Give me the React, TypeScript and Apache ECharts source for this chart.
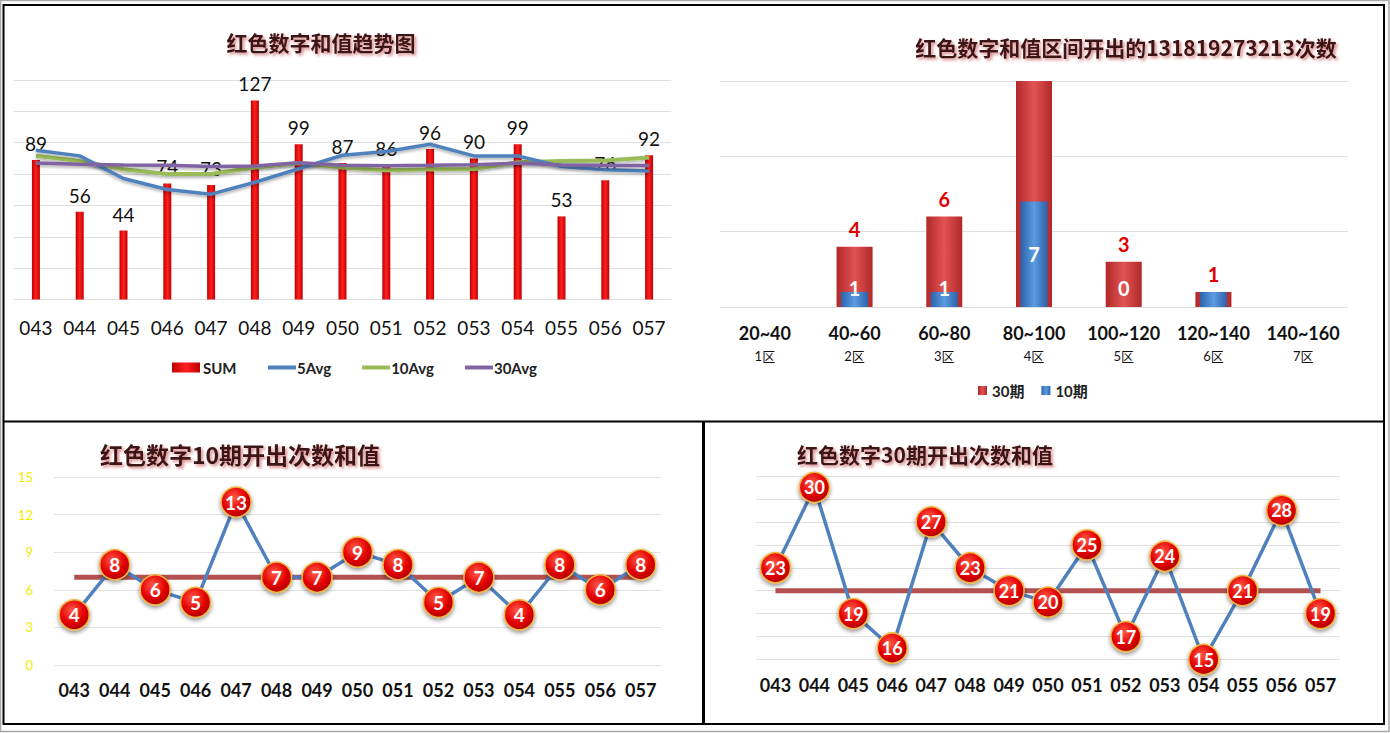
import React, { useEffect, useRef } from "react";
import * as echarts from "echarts";

// ---------- data ----------
const periods = ["043", "044", "045", "046", "047", "048", "049", "050", "051", "052", "053", "054", "055", "056", "057"];
const sumValues = [89, 56, 44, 74, 73, 127, 99, 87, 86, 96, 90, 99, 53, 76, 92];
const avg5 = [95.2, 91.6, 77.2, 70.2, 67.2, 74.8, 83.4, 92, 94.4, 99, 91.6, 91.6, 84.8, 82.8, 82];
const avg10 = [91.6, 88.4, 83.1, 80, 80, 84.2, 87, 84.2, 82.5, 83.1, 83.2, 87.5, 88.4, 88.6, 90.5];
const avg30 = [87, 86.3, 85.8, 85.7, 84.8, 85.2, 87.2, 85.7, 85.3, 85.6, 86, 87, 85.8, 85.5, 85.5];

const ranges = ["20~40", "40~60", "60~80", "80~100", "100~120", "120~140", "140~160"];
const zones = ["1区", "2区", "3区", "4区", "5区", "6区", "7区"];
const count30 = [0, 4, 6, 16, 3, 1, 0];
const count10 = [0, 1, 1, 7, 0, 1, 0];

const hits10 = [4, 8, 6, 5, 13, 7, 7, 9, 8, 5, 7, 4, 8, 6, 8];
const mean10 = 7;
const hits30 = [23, 30, 19, 16, 27, 23, 21, 20, 25, 17, 24, 15, 21, 28, 19];
const mean30 = 21;

const rangeMax = 15;

// ---------- styles ----------
const LAT = "Lato, 'Noto Sans CJK SC', sans-serif";
const CJK = "'Noto Sans CJK SC', sans-serif";

const titleStyle = (size: number) => ({
  color: "#3a1212",
  fontSize: size,
  fontWeight: "bold" as const,
  fontFamily: CJK,
  textShadowColor: "rgba(180,40,40,0.55)",
  textShadowBlur: 3,
  textShadowOffsetX: 2,
  textShadowOffsetY: 2,
});

const hGrad = (edge: string, mid: string) =>
  new echarts.graphic.LinearGradient(0, 0, 1, 0, [
    { offset: 0, color: edge },
    { offset: 0.5, color: mid },
    { offset: 1, color: edge },
  ]);

const ballStyle = {
  color: new echarts.graphic.RadialGradient(0.42, 0.35, 0.7, [
    { offset: 0, color: "#ff5a48" },
    { offset: 0.6, color: "#e30000" },
    { offset: 1, color: "#a80000" },
  ]),
  borderColor: "#f2b640",
  borderWidth: 1.5,
  shadowColor: "rgba(0,0,0,0.45)",
  shadowBlur: 4,
  shadowOffsetY: 2,
};

const lineShadow = { shadowColor: "rgba(0,0,0,0.3)", shadowBlur: 3, shadowOffsetY: 2 };

const legendText = { fontFamily: LAT, fontSize: 15, fontWeight: "bold", color: "#222" };

export default function App() {
  const ref = useRef<HTMLDivElement>(null);

  useEffect(() => {
    const chart = echarts.init(ref.current!, null, { renderer: "svg" });

    const option: any = {
      animation: false,
      backgroundColor: "#ffffff",
      title: [
        { text: "红色数字和值趋势图", left: 321, top: 31, textAlign: "center", padding: 0, textStyle: titleStyle(21) },
        { text: "红色数字和值区间开出的131819273213次数", left: 1126, top: 36, textAlign: "center", padding: 0, textStyle: titleStyle(21) },
        { text: "红色数字10期开出次数和值", left: 240, top: 442, textAlign: "center", padding: 0, textStyle: titleStyle(23) },
        { text: "红色数字30期开出次数和值", left: 925, top: 443, textAlign: "center", padding: 0, textStyle: titleStyle(21) },
      ],
      graphic: [
        { type: "rect", shape: { x: 0.5, y: 0.5, width: 1388.5, height: 731 }, style: { fill: "none", stroke: "#a8a8a8", lineWidth: 1.5 }, silent: true },
        { type: "rect", shape: { x: 3.5, y: 5, width: 1380.5, height: 719 }, style: { fill: "none", stroke: "#000", lineWidth: 2 }, silent: true },
        { type: "line", shape: { x1: 3.5, y1: 421.5, x2: 1384, y2: 421.5 }, style: { stroke: "#000", lineWidth: 2 }, silent: true },
        { type: "line", shape: { x1: 703.5, y1: 421.5, x2: 703.5, y2: 724 }, style: { stroke: "#000", lineWidth: 3 }, silent: true },
      ],
      legend: [
        {
          data: [{ name: "SUM", icon: "rect" }],
          left: 172,
          top: 360,
          itemWidth: 28,
          itemHeight: 10,
          padding: 0,
          textStyle: { ...legendText, padding: [0, 0, 0, -2] },
        },
        {
          data: [{ name: "5Avg" }, { name: "10Avg" }, { name: "30Avg" }],
          icon: "rect",
          left: 268,
          top: 360,
          itemWidth: 28,
          itemHeight: 4,
          itemGap: 31,
          padding: 0,
          textStyle: { ...legendText, padding: [0, 0, 0, -4] },
        },
        {
          data: [
            { name: "30期", icon: "rect" },
            { name: "10期", icon: "rect" },
          ],
          left: 978,
          top: 383,
          itemWidth: 9,
          itemHeight: 9,
          itemGap: 17,
          padding: 0,
          textStyle: legendText,
        },
      ],
      grid: [
        { left: 14, top: 80, width: 657, height: 219.5 },
        { left: 720, top: 81, width: 628, height: 226 },
        { left: 54, top: 477, width: 607, height: 188 },
        { left: 756, top: 476, width: 584, height: 183.5 },
      ],
      xAxis: [
        {
          gridIndex: 0,
          type: "category",
          data: periods,
          axisLine: { show: false },
          axisTick: { show: false },
          axisLabel: { interval: 0, fontFamily: LAT, fontSize: 19, color: "#111", margin: 18 },
        },
        {
          gridIndex: 1,
          type: "category",
          data: ranges.map((r, i) => `{a|${r}}\n{b|${zones[i]}}`),
          axisLine: { show: false },
          axisTick: { show: false },
          axisLabel: {
            interval: 0,
            margin: 14,
            rich: {
              a: { fontFamily: LAT, fontSize: 18, fontWeight: "bold", color: "#111", lineHeight: 24 },
              b: { fontFamily: LAT, fontSize: 13, color: "#111", lineHeight: 22 },
            },
          },
        },
        { gridIndex: 1, type: "category", data: ranges, show: false },
        {
          gridIndex: 2,
          type: "category",
          data: periods,
          axisLine: { show: false },
          axisTick: { show: false },
          axisLabel: { interval: 0, fontFamily: LAT, fontSize: 18, fontWeight: "bold", color: "#111", margin: 16 },
        },
        {
          gridIndex: 3,
          type: "category",
          data: periods,
          axisLine: { show: false },
          axisTick: { show: false },
          axisLabel: { interval: 0, fontFamily: LAT, fontSize: 18, fontWeight: "bold", color: "#111", margin: 16 },
        },
      ],
      yAxis: [
        {
          gridIndex: 0, type: "value", min: 0, max: 140, interval: 20,
          axisLabel: { show: false }, axisLine: { show: false }, axisTick: { show: false },
          splitLine: { lineStyle: { color: "#dedede" } },
        },
        {
          gridIndex: 1, type: "value", min: 0, max: rangeMax, interval: 5,
          axisLabel: { show: false }, axisLine: { show: false }, axisTick: { show: false },
          splitLine: { lineStyle: { color: "#dedede" } },
        },
        {
          gridIndex: 2, type: "value", min: 0, max: 15, interval: 3,
          axisLabel: { fontFamily: LAT, fontSize: 13, color: "#f0ec00", margin: 21 },
          axisLine: { show: false }, axisTick: { show: false },
          splitLine: { lineStyle: { color: "#e2e2e2" } },
        },
        {
          gridIndex: 3, type: "value", min: 15, max: 31, interval: 2,
          axisLabel: { show: false }, axisLine: { show: false }, axisTick: { show: false },
          splitLine: { lineStyle: { color: "#dedede" } },
        },
      ],
      series: [
        // ---- top-left ----
        {
          name: "SUM",
          type: "bar",
          xAxisIndex: 0,
          yAxisIndex: 0,
          data: sumValues,
          barWidth: 8,
          itemStyle: { color: hGrad("#c00000", "#ff2020") },
          label: { show: true, position: "top", distance: 7, fontFamily: LAT, fontSize: 19, color: "#111" },
          z: 2,
        },
        {
          name: "5Avg", type: "line", xAxisIndex: 0, yAxisIndex: 0, data: avg5, symbol: "none",
          color: "#4f81bd", lineStyle: { width: 3.5, color: "#4f81bd", ...lineShadow }, z: 4,
        },
        {
          name: "10Avg", type: "line", xAxisIndex: 0, yAxisIndex: 0, data: avg10, symbol: "none",
          color: "#9bbb59", lineStyle: { width: 4, color: "#9bbb59", ...lineShadow }, z: 3,
        },
        {
          name: "30Avg", type: "line", xAxisIndex: 0, yAxisIndex: 0, data: avg30, symbol: "none",
          color: "#8064a2", lineStyle: { width: 3.5, color: "#8064a2", ...lineShadow }, z: 5,
        },
        // ---- top-right ----
        {
          name: "30期",
          type: "bar",
          xAxisIndex: 1,
          yAxisIndex: 1,
          barWidth: 36,
          clip: true,
          data: count30.map((v) => (v > rangeMax || v === 0 ? { value: v, label: { show: false } } : v)),
          itemStyle: { color: hGrad("#b02828", "#e25353") },
          label: { show: true, position: "top", distance: 8, fontFamily: LAT, fontSize: 20, fontWeight: "bold", color: "#e00000" },
          z: 2,
        },
        {
          name: "10期",
          type: "bar",
          xAxisIndex: 2,
          yAxisIndex: 1,
          barWidth: 27,
          clip: true,
          data: count10.map((v, i) =>
            count30[i] === 0 || count30[i] === v
              ? { value: v, label: { show: false } }
              : v >= 3
              ? { value: v, label: { position: "inside" } }
              : { value: v, label: { position: "insideBottom", distance: 9 } }
          ),
          itemStyle: { color: hGrad("#2c62ac", "#5b9be0") },
          label: { show: true, fontFamily: LAT, fontSize: 20, fontWeight: "bold", color: "#ffffff" },
          z: 3,
        },
        // ---- bottom-left ----
        {
          name: "mean10",
          type: "line",
          xAxisIndex: 3,
          yAxisIndex: 2,
          data: periods.map(() => mean10),
          symbol: "none",
          lineStyle: { width: 5, color: "#b35150" },
          silent: true,
          z: 2,
        },
        {
          name: "hits10",
          type: "line",
          xAxisIndex: 3,
          yAxisIndex: 2,
          data: hits10,
          symbol: "circle",
          symbolSize: 30,
          showAllSymbol: true,
          lineStyle: { width: 3.5, color: "#4f81bd" },
          itemStyle: ballStyle,
          label: { show: true, position: "inside", fontFamily: LAT, fontSize: 19, fontWeight: "bold", color: "#fff" },
          labelLayout: { hideOverlap: false },
          z: 3,
        },
        // ---- bottom-right ----
        {
          name: "mean30",
          type: "line",
          xAxisIndex: 4,
          yAxisIndex: 3,
          data: periods.map(() => mean30),
          symbol: "none",
          lineStyle: { width: 5, color: "#b35150" },
          silent: true,
          z: 2,
        },
        {
          name: "hits30",
          type: "line",
          xAxisIndex: 4,
          yAxisIndex: 3,
          data: hits30,
          symbol: "circle",
          symbolSize: 30,
          showAllSymbol: true,
          lineStyle: { width: 3.5, color: "#4f81bd" },
          itemStyle: ballStyle,
          label: { show: true, position: "inside", fontFamily: LAT, fontSize: 18, fontWeight: "bold", color: "#fff" },
          labelLayout: { hideOverlap: false },
          z: 3,
        },
      ],
    };

    chart.setOption(option);
    return () => chart.dispose();
  }, []);

  return (
    <div
      ref={ref}
      style={{ position: "fixed", left: 0, top: 0, width: 1390, height: 733, background: "#fff" }}
    />
  );
}
